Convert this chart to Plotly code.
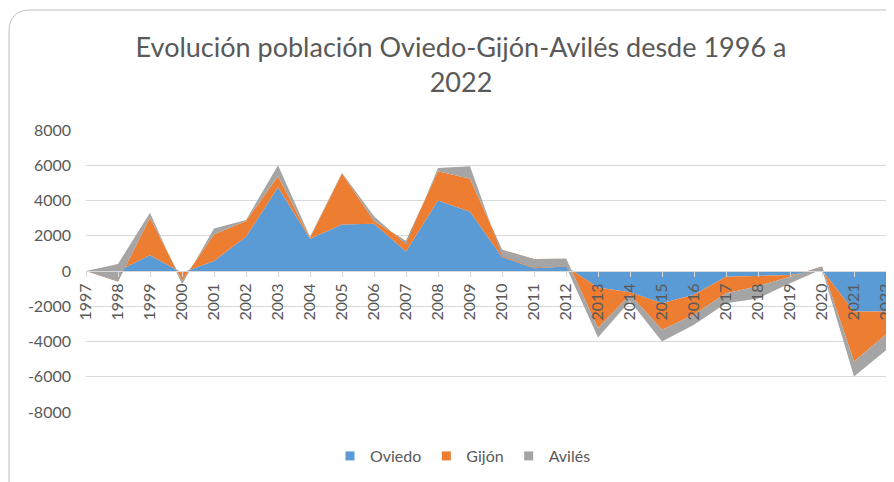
import plotly.graph_objects as go

years = list(range(1997, 2023))
oviedo = [0, 0, 890, -100, 570, 1940, 4750, 1830, 2640, 2680, 1100, 4000, 3360,
          800, 150, 250, -940, -1200, -1830, -1350, -320, -260, -230, 60, -2300, -2300]
gijon = [0, -600, 2130, -450, 1500, 890, 630, 50, 2890, 150, 600, 1660, 1870,
         400, 530, 450, -2300, -150, -1510, -1130, -940, -600, -90, 190, -2830, -1300]
aviles = [0, 1000, 280, -200, 340, 60, 620, 60, 40, 280, -200, 190, 710,
          -350, -500, -450, -530, -350, -660, -570, -570, -700, -380, -150, -850, -900]
series_names = ["Oviedo", "Gijón", "Avilés"]
colors = ["#5B9BD5", "#ED7D31", "#A5A5A5"]
y_ticks = list(range(-8000, 8001, 2000))
y_tick_labels = [str(v) for v in y_ticks]

FONT = "Lato"
TXT = "#595959"
GRID = "#D9D9D9"

# page body adds an 8px offset; figure coords = screen coords - 8
OFF = 8
W, H = 894 - OFF, 482 - OFF
L = 86 - OFF
T = 130 - OFF
R = W - (886 - OFF)
B = H - (412 - OFF)

fig = go.Figure()
for name, vals, col in zip(series_names, [oviedo, gijon, aviles], colors):
    fig.add_trace(go.Scatter(
        x=years, y=vals, name=name, stackgroup="one", mode="lines",
        line=dict(width=0, color=col), fillcolor=col, showlegend=False,
        hoverinfo="x+y+name"))
for name, col in zip(series_names, colors):
    fig.add_trace(go.Scatter(
        x=[None], y=[None], name=name, mode="markers",
        marker=dict(symbol="square", size=9, color=col), showlegend=True))

pw = W - L - R
ph = H - T - B
def px(x):  # screen x -> paper
    return (x - OFF - L) / pw
def py(y):  # screen y -> paper
    return (H - B - (y - OFF)) / ph

path = (f"M {px(9)},{py(500)} L {px(9)},{py(32)} "
        f"Q {px(9)},{py(10)} {px(30)},{py(10)} L {px(910)},{py(10)}")

fig.update_layout(
    width=W, height=H,
    margin=dict(l=L, r=R, t=T, b=B, autoexpand=False),
    paper_bgcolor="white", plot_bgcolor="white",
    font=dict(family=FONT, color=TXT, size=16),
    title=dict(text="Evolución población Oviedo-Gijón-Avilés desde 1996 a<br>2022",
               x=(461 - OFF) / W, xanchor="center", xref="container",
               y=1 - (57 - OFF) / H, yanchor="middle", yref="container",
               font=dict(family=FONT, size=27, color=TXT)),
    showlegend=True,
    legend=dict(orientation="h", traceorder="normal",
                x=px(463), xanchor="center",
                y=py(456), yanchor="middle",
                font=dict(family=FONT, size=16, color=TXT),
                itemwidth=30, bgcolor="rgba(0,0,0,0)"),
    xaxis=dict(range=[1997, 2022], tickmode="array", tickvals=years,
               ticktext=[str(y) for y in years], tickangle=-90,
               anchor="free", position=0.5,
               showline=True, linecolor=GRID, linewidth=1,
               ticks="outside", ticklen=5, tickcolor=GRID,
               showgrid=False, zeroline=False,
               ticklabeloverflow="allow",
               tickfont=dict(family=FONT, size=16, color=TXT)),
    yaxis=dict(range=[-8000, 8000], tickmode="array", tickvals=y_ticks,
               ticktext=y_tick_labels,
               showgrid=True, gridcolor=GRID, gridwidth=1,
               zeroline=False, showline=False, ticks="",
               ticklabelstandoff=14,
               tickfont=dict(family=FONT, size=16, color=TXT)),
    shapes=[dict(type="path", path=path, xref="paper", yref="paper",
                 line=dict(color="#BFBFBF", width=1), layer="below")],
)

fig.write_html("out.html")
